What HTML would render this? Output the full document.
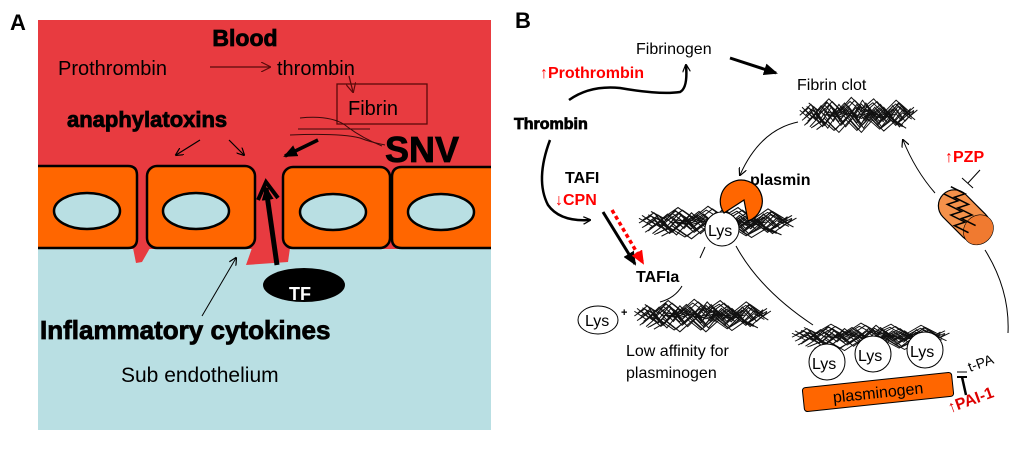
<!DOCTYPE html>
<html><head><meta charset="utf-8"><style>
html,body{margin:0;padding:0;background:#fff}
svg{display:block}
text{font-family:"Liberation Sans",Arial,sans-serif}
.hb{font-weight:bold;stroke:#000;stroke-width:0.8}
</style></head><body>
<svg width="1024" height="451" viewBox="0 0 1024 451" xmlns="http://www.w3.org/2000/svg">
<defs>
<marker id="ah" markerWidth="8" markerHeight="8" refX="7" refY="4" orient="auto" markerUnits="userSpaceOnUse"><path d="M0,0 L8,4 L0,8" fill="none" stroke="#000" stroke-width="1.2"/></marker>
<marker id="ahd" markerWidth="10" markerHeight="10" refX="9" refY="5" orient="auto" markerUnits="userSpaceOnUse"><path d="M0,0 L10,5 L0,10" fill="none" stroke="#5a0a0a" stroke-width="1.2"/></marker>
<marker id="ahb" markerWidth="14" markerHeight="12" refX="12" refY="6" orient="auto" markerUnits="userSpaceOnUse"><path d="M0,0 L14,6 L0,12 Z" fill="#000"/></marker>
<marker id="ahr" markerWidth="14" markerHeight="12" refX="12" refY="6" orient="auto" markerUnits="userSpaceOnUse"><path d="M0,0 L14,6 L0,12 Z" fill="#f00"/></marker>
<g id="m1" fill="none" stroke="#111" stroke-width="0.8">
<path d="M0,12 L8,6 L14,14 L22,4 L30,12 L38,5 L46,13 L54,3 L62,12 L70,6 L78,14 L86,5 L94,12 L100,8"/>
<path d="M2,16 L10,10 L18,18 L26,8 L34,17 L42,9 L50,18 L58,7 L66,16 L74,9 L82,18 L90,10 L98,15"/>
<path d="M0,8 L9,15 L17,7 L25,16 L33,6 L41,15 L49,6 L57,16 L65,8 L73,17 L81,7 L89,16 L97,9"/>
<path d="M4,20 L12,13 L20,21 L28,11 L36,20 L44,12 L52,21 L60,11 L68,20 L76,12 L84,20 L92,13"/>
<path d="M6,5 L14,10 L24,2 L34,10 L44,1 L54,9 L64,2 L74,11 L84,3 L94,10"/>
<path d="M10,22 L20,16 L30,24 L40,15 L50,24 L60,15 L70,23 L80,16 L90,21"/>
<path d="M20,11 L30,13 L40,10 L50,14 L60,10 L70,14 L80,11"/>
</g>
<g id="mesh"><use href="#m1"/><use href="#m1" transform="translate(3,2)"/><use href="#m1" transform="translate(-2,3) scale(1.02,0.9)"/></g>
</defs>

<!-- Panel A -->
<text x="10" y="30" font-size="22" font-weight="bold">A</text>
<rect x="38" y="20" width="453" height="150" fill="#e83b40"/>
<rect x="38" y="248" width="453" height="182" fill="#b9dfe3"/>
<rect x="38" y="165" width="453" height="84" fill="#e83b40"/>
<path d="M133,248 L150,248 L142,262 L136,263 Z" fill="#e83b40"/>
<path d="M252,248 L290,248 L288,262 L246,265 Z" fill="#e83b40"/>
<g fill="#ff6600" stroke="#000" stroke-width="2.5">
<path d="M38,166 L128,166 Q137,166 137,175 L137,239 Q137,248 128,248 L38,248"/>
<rect x="147" y="166" width="108" height="82" rx="10"/>
<rect x="283" y="167" width="107" height="81" rx="10"/>
<path d="M491,167 L402,167 Q392,167 392,177 L392,239 Q392,248 402,248 L491,248"/>
</g>
<g fill="#b9dfe3" stroke="#000" stroke-width="2.5">
<ellipse cx="87" cy="211" rx="33" ry="18"/>
<ellipse cx="196" cy="211" rx="33" ry="18"/>
<ellipse cx="333" cy="212" rx="33" ry="18"/>
<ellipse cx="441" cy="212" rx="33" ry="18"/>
</g>
<line x1="277" y1="265" x2="266" y2="188" stroke="#000" stroke-width="5" marker-end="url(#ahb)"/>
<path d="M258,200 L266,182 L278,198" fill="none" stroke="#000" stroke-width="4"/>
<ellipse cx="304" cy="285" rx="41" ry="17" fill="#000"/>
<text x="289" y="300" font-size="18" fill="#fff" font-weight="bold">TF</text>
<text x="245" y="46" font-size="23" class="hb" text-anchor="middle">Blood</text>
<text x="58" y="75" font-size="20">Prothrombin</text>
<line x1="210" y1="67" x2="270" y2="67" stroke="#5a0a0a" stroke-width="1.3" marker-end="url(#ahd)"/>
<text x="277" y="75" font-size="20">thrombin</text>
<line x1="349" y1="76" x2="353" y2="92" stroke="#5a0a0a" stroke-width="1.3" marker-end="url(#ahd)"/>
<rect x="337" y="84" width="90" height="40" fill="none" stroke="#5a0a0a" stroke-width="1.3"/>
<text x="348" y="115" font-size="20">Fibrin</text>
<text x="67" y="127" font-size="22" class="hb">anaphylatoxins</text>
<g fill="none" stroke="#3a0a0a" stroke-width="1">
<path d="M300,118 Q330,115 345,125 Q360,137 382,146"/>
<path d="M298,129 L370,129"/>
<path d="M290,135 Q340,133 360,138 Q370,142 385,145"/>
</g>
<text x="385" y="162" font-size="36" class="hb">SNV</text>
<line x1="200" y1="140" x2="176" y2="155" stroke="#000" stroke-width="1.2" marker-end="url(#ah)"/>
<line x1="229" y1="140" x2="244" y2="155" stroke="#000" stroke-width="1.2" marker-end="url(#ah)"/>
<line x1="318" y1="140" x2="285" y2="156" stroke="#000" stroke-width="3.5" marker-end="url(#ahb)"/>
<line x1="202" y1="316" x2="236" y2="258" stroke="#000" stroke-width="1" marker-end="url(#ah)"/>
<text x="40" y="339" font-size="26" class="hb">Inflammatory cytokines</text>
<text x="121" y="382" font-size="21">Sub endothelium</text>

<!-- Panel B -->
<text x="515" y="28" font-size="22" font-weight="bold">B</text>
<text x="636" y="54" font-size="16">Fibrinogen</text>
<line x1="730" y1="58" x2="776" y2="73" stroke="#000" stroke-width="3" marker-end="url(#ahb)"/>
<text x="540" y="78" font-size="16" font-weight="bold" fill="#f00">↑Prothrombin</text>
<path d="M569,100 Q590,85 620,88 Q660,95 680,92 Q688,88 686,65" fill="none" stroke="#000" stroke-width="2.5" marker-end="url(#ah)"/>
<text x="514" y="129" font-size="16" class="hb">Thrombin</text>
<path d="M550,140 Q535,180 548,205 Q560,222 590,220" fill="none" stroke="#000" stroke-width="2.5" marker-end="url(#ah)"/>
<text x="565" y="183" font-size="16" font-weight="bold">TAFI</text>
<text x="555" y="205" font-size="16" font-weight="bold" fill="#f00">↓CPN</text>
<line x1="603" y1="212" x2="635" y2="264" stroke="#000" stroke-width="3" marker-end="url(#ahb)"/>
<line x1="612" y1="210" x2="643" y2="263" stroke="#f00" stroke-width="3.5" stroke-dasharray="4,3" marker-end="url(#ahr)"/>
<text x="636" y="282" font-size="16" font-weight="bold">TAFIa</text>
<text x="797" y="90" font-size="16">Fibrin clot</text>
<use href="#mesh" transform="translate(802,96) scale(1.12,1.4)"/>
<path d="M798,122 Q760,130 740,175" fill="none" stroke="#000" stroke-width="1" marker-end="url(#ah)"/>
<use href="#mesh" transform="translate(642,205) scale(1.5,1.3)"/>
<text x="750" y="185" font-size="16" font-weight="bold">plasmin</text>
<circle cx="722" cy="229" r="17" fill="#fff" stroke="#000"/>
<text x="708" y="236" font-size="16">Lys</text>
<path d="M744,200 L724,213 A21,21 0 1,1 748,221 Z" fill="#ff6600" stroke="#000" stroke-width="1.2"/>
<line x1="705" y1="247" x2="700" y2="258" stroke="#000"/>
<path d="M682,286 Q675,298 660,302" fill="none" stroke="#000" stroke-width="1"/>
<ellipse cx="598" cy="320" rx="20" ry="14" fill="#fff" stroke="#000"/>
<text x="585" y="326" font-size="16">Lys</text>
<text x="621" y="316" font-size="11" font-weight="bold">+</text>
<use href="#mesh" transform="translate(637,298) scale(1.3,1.3)"/>
<text x="626" y="356" font-size="16">Low affinity for</text>
<text x="626" y="378" font-size="16">plasminogen</text>
<path d="M736,246 Q760,290 813,325" fill="none" stroke="#000" stroke-width="1"/>
<use href="#mesh" transform="translate(795,322) scale(1.5,1.1)"/>
<g fill="#fff" stroke="#000">
<circle cx="827" cy="362" r="18"/><circle cx="873" cy="354" r="18"/><circle cx="925" cy="350" r="18"/>
</g>
<text x="812" y="369" font-size="16">Lys</text>
<text x="858" y="361" font-size="16">Lys</text>
<text x="910" y="357" font-size="16">Lys</text>
<g transform="rotate(-6 878 392)">
<rect x="803" y="380" width="150" height="24" rx="3" fill="#ff6600" stroke="#000"/>
<text x="878" y="398" font-size="16" text-anchor="middle">plasminogen</text>
</g>
<text x="970" y="372" font-size="14" transform="rotate(-20 970 372)">t-PA</text>
<line x1="957" y1="372" x2="967" y2="372" stroke="#000"/>
<line x1="957" y1="377" x2="967" y2="377" stroke="#000" stroke-width="2"/>
<line x1="962" y1="377" x2="966" y2="395" stroke="#000" stroke-width="2.5"/>
<text x="950" y="413" font-size="16" font-weight="bold" fill="#d00" transform="rotate(-20 950 413)">↑PAI-1</text>
<path d="M1008,333 Q1010,290 985,250" fill="none" stroke="#000" stroke-width="1"/>
<path d="M935,193 Q915,170 903,140" fill="none" stroke="#000" stroke-width="1" marker-end="url(#ah)"/>
<text x="945" y="162" font-size="16" font-weight="bold" fill="#f00">↑PZP</text>
<line x1="980" y1="170" x2="968" y2="183" stroke="#000"/>
<line x1="962" y1="178" x2="973" y2="188" stroke="#000"/>
<g transform="rotate(45 965 215)" stroke="#000" stroke-width="1.2">
<rect x="935" y="200" width="60" height="32" rx="16" fill="#f5914a"/>
<ellipse cx="985" cy="216" rx="14" ry="16" fill="#f07a30" stroke-width="0.6"/>
<path d="M935,205 L950,200 L945,210 L960,205 L955,215 L970,210 L965,220 L980,215" fill="none" stroke-width="1.5"/>
<path d="M935,215 L950,210 L945,220 L960,215 L955,225 L970,220 L965,230 L980,225" fill="none" stroke-width="1.5"/>
</g>
</svg>
</body></html>
